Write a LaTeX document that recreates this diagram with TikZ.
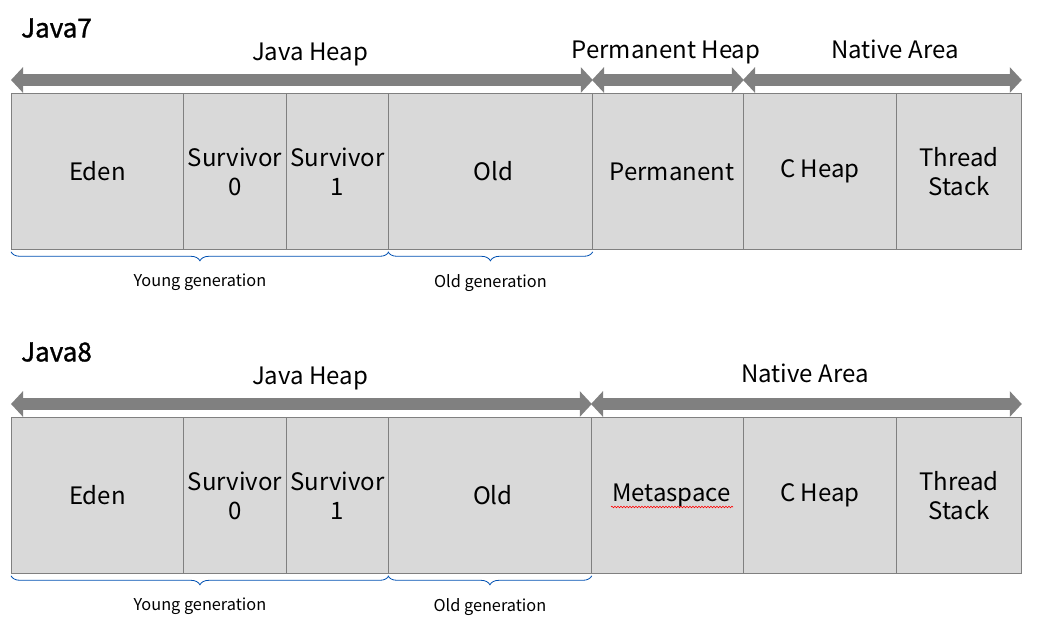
\documentclass[tikz,border=0pt]{standalone}
\usepackage{fontspec}
\setmainfont{Noto Sans CJK KR}
\newfontfamily\titlefont[FakeBold=1.3]{Noto Sans CJK KR}
\usetikzlibrary{arrows.meta,decorations.pathreplacing,decorations.pathmorphing,calc}
\begin{document}
\begin{tikzpicture}[x=1pt,y=-1pt,
  cell/.style={draw=black!50,fill=black!15,line width=0.8pt,minimum height=156pt,inner sep=0pt,anchor=north west,align=center,font=\fontsize{24}{29}\selectfont},
  bigarrow/.style={draw=black!50,line width=12pt,{Triangle[width=25pt,length=12pt]}-{Triangle[width=25pt,length=12pt]}},
  toplabel/.style={font=\fontsize{24}{28}\selectfont,inner sep=0pt},
  title/.style={font=\titlefont\fontsize{26}{30}\selectfont,inner sep=0pt,anchor=west},
  gen/.style={font=\fontsize{16.3}{19}\selectfont,inner sep=0pt},
  brc/.style={draw=blue!55!cyan!70!black,line width=0.8pt,decorate,decoration={brace,mirror,amplitude=9pt}}
]
\useasboundingbox (0,0) rectangle (1040,644);
% ---------- Java7 ----------
\node[title] (j7) at (21,28) {Java7};
\node[cell,minimum width=172pt] (e7) at (11,93) {Eden};
\node[cell,minimum width=103pt] (sa7) at (183,93) {Survivor\\0};
\node[cell,minimum width=102pt] (sb7) at (286,93) {Survivor\\1};
\node[cell,minimum width=204pt] (o7) at (388,93) {\hspace*{6pt}Old};
\node[cell,minimum width=151pt] (p7) at (592,93) {\hspace*{8pt}Permanent};
\node[cell,minimum width=153pt] (c7) at (743,93) {C Heap};
\node[cell,minimum width=125pt] (t7) at (896,93) {Thread\\Stack};
\draw[bigarrow] ([yshift=13pt]e7.north west) -- ([yshift=13pt]o7.north east);
\draw[bigarrow] ([yshift=13pt]p7.north west) -- ([yshift=13pt]p7.north east);
\draw[bigarrow] ([yshift=13pt]c7.north west) -- ([yshift=13pt]t7.north east);
\node[toplabel] (jh7) at (310,54) {Java Heap};
\node[toplabel] (ph7) at (666,52) {Permanent Heap};
\node[toplabel] (na7) at (895,49) {Native Area};
\draw[brc] ([yshift=-2pt]e7.south west) -- ([yshift=-2pt]sb7.south east) node[midway,below=22pt,gen] (yg7) {Young generation};
\draw[brc] ([yshift=-2pt]o7.south west) -- ([yshift=-2pt]o7.south east) node[midway,below=22pt,gen] (og7) {Old generation};
% ---------- Java8 ----------
\node[title] (j8) at (21,352) {Java8};
\node[cell,minimum width=172pt] (e8) at (11,417) {Eden};
\node[cell,minimum width=103pt] (sa8) at (183,417) {Survivor\\0};
\node[cell,minimum width=102pt] (sb8) at (286,417) {Survivor\\1};
\node[cell,minimum width=203pt] (o8) at (388,417) {\hspace*{6pt}Old};
\node[cell,minimum width=152pt] (m8) at (591,417) {\hspace*{8pt}Metaspace};
\node[cell,minimum width=153pt] (c8) at (743,417) {C Heap};
\node[cell,minimum width=125pt] (t8) at (896,417) {Thread\\Stack};
\draw[bigarrow] ([yshift=13pt]e8.north west) -- ([yshift=13pt]o8.north east);
\draw[bigarrow] ([yshift=13pt]m8.north west) -- ([yshift=13pt]t8.north east);
\node[toplabel] (jh8) at (310,378) {Java Heap};
\node[toplabel] (na8) at (805,373) {Native Area};
\draw[red,line width=0.6pt,decorate,decoration={snake,amplitude=0.8pt,segment length=3pt}] (611,507) -- (733,507);
\draw[brc] ([yshift=-2pt]e8.south west) -- ([yshift=-2pt]sb8.south east) node[midway,below=22pt,gen] (yg8) {Young generation};
\draw[brc] ([yshift=-2pt]o8.south west) -- ([yshift=-2pt]o8.south east) node[midway,below=22pt,gen] (og8) {Old generation};
\end{tikzpicture}
\end{document}
